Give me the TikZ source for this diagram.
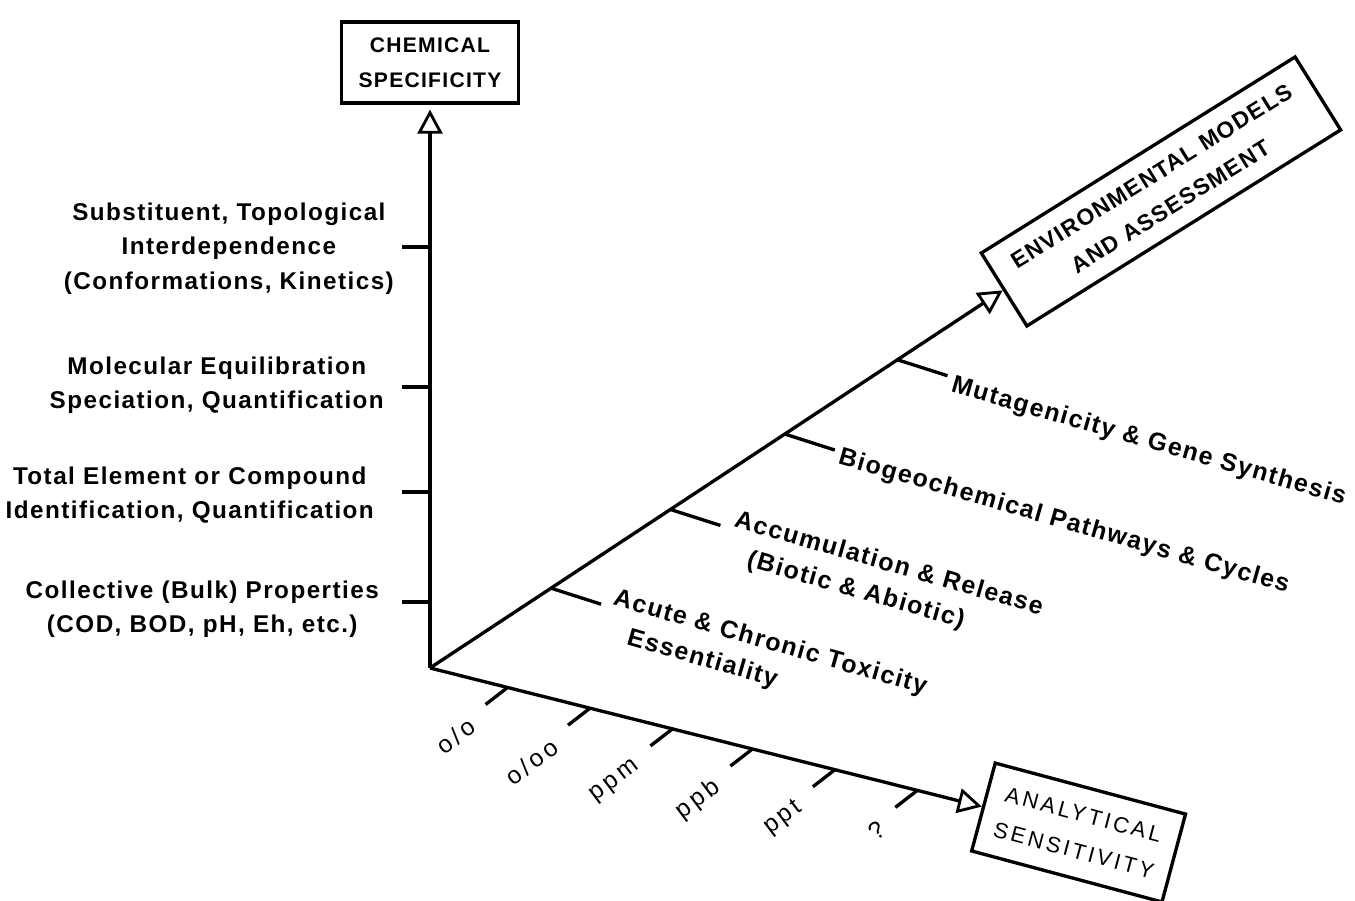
\documentclass[tikz,border=0pt]{standalone}
\usepackage{fontspec}
\setmainfont{Liberation Sans}[LetterSpace=6]
\newfontfamily\widefont{Liberation Sans}[LetterSpace=14]
\usetikzlibrary{positioning,calc,arrows.meta}

\begin{document}
\begin{tikzpicture}[
                axisline/.style={line width=1.9pt, -{Triangle[open, length=4.8mm, width=5mm, line width=1.6pt]}},
                tickline/.style={line width=1.9pt},
                boxnode/.style={rectangle, draw, line width=1.9pt, align=center, inner sep=2pt},
                vlab/.style={align=center, font=\fontsize{13.8}{19.5}\selectfont\bfseries},
                dlab/.style={align=left, rotate=-16, anchor=north west, inner sep=0pt, font=\fontsize{14.2}{19.5}\selectfont\bfseries},
                blab/.style={rotate=37, anchor=east, inner sep=0pt, font=\widefont\fontsize{14}{16}\selectfont},
            ]

            \useasboundingbox (-8.6,-4.66) rectangle (18.5,13.36);

            \coordinate (OCoo) at (0, 0);

            % boxes
            \node[boxnode, minimum width=3.54cm, minimum height=1.62cm, font=\fontsize{12}{20}\selectfont\bfseries] (chem) at (0, 12.11) {CHEMICAL\\SPECIFICITY};
            \node[boxnode, rotate=32, anchor=west, minimum width=7.4cm, minimum height=1.72cm, font=\fontsize{13}{20.5}\selectfont\bfseries] (env) at (33.4:13.72) {ENVIRONMENTAL MODELS\\AND ASSESSMENT};
            \node[boxnode, rotate=-15, anchor=west, minimum width=3.94cm, minimum height=1.82cm, font=\widefont\fontsize{12.5}{21}\selectfont] (ana) at (-14.1:11.38) {ANALYTICAL\\SENSITIVITY};

            % axes
            \draw[axisline, shorten >=1mm] (OCoo) -- (chem.south);
            \draw[axisline] (OCoo) -- (env.west);
            \draw[axisline] (OCoo) -- (ana.west);

            % chemical specificity
            \foreach \y in {8.42, 5.62, 3.52, 1.32}
                \draw[tickline] (0, \y) -- ++(-0.56, 0);

            \node[vlab, anchor=east] (subst) at (-0.6, 8.39) {Substituent, Topological\\Interdependence\\(Conformations, Kinetics)};
            \node[vlab, anchor=east] (molec) at (-0.8, 5.65) {Molecular Equilibration\\Speciation, Quantification};
            \node[vlab, anchor=east] (total) at (-1.0, 3.46) {Total Element or Compound\\Identification, Quantification};
            \node[vlab, anchor=east] (collec) at (-0.9, 1.18) {Collective (Bulk) Properties\\(COD, BOD, pH, Eh, etc.)};

            % environmental models
            \foreach \d in {2.9, 5.76, 8.5, 11.2}
                \draw[tickline] (33.4:\d) -- ++(1.0, -0.32);

            \node[dlab] (acute) at (3.74, 1.62) {Acute \& Chronic Toxicity\\\hspace*{0.48cm}Essentiality};
            \node[dlab] (accum) at (6.16, 3.18) {Accumulation \& Release\\\hspace*{0.46cm}(Biotic \& Abiotic)};
            \node[dlab] (biogeo) at (8.24, 4.44) {Biogeochemical Pathways \& Cycles};
            \node[dlab] (mutag) at (10.5, 5.88) {Mutagenicity \& Gene Synthesis};

            % analytical sensitivity
            \foreach \d in {1.6, 3.3, 5.0, 6.65, 8.35, 10.05}
                \draw[tickline] (-14.1:\d) -- ++(-0.44, -0.34);

            \node[blab] (pct) at ($ (-14.1:1.6) + (-0.7, -0.72) $) {o/o};
            \node[blab] (pml) at ($ (-14.1:3.3) + (-0.7, -0.72) $) {o/oo};
            \node[blab] (ppm) at ($ (-14.1:5.0) + (-0.7, -0.72) $) {ppm};
            \node[blab] (ppb) at ($ (-14.1:6.65) + (-0.7, -0.72) $) {ppb};
            \node[blab] (ppt) at ($ (-14.1:8.35) + (-0.7, -0.72) $) {ppt};
            \node[blab] (unk) at ($ (-14.1:10.05) + (-0.7, -0.72) $) {?};
        \end{tikzpicture}
\end{document}
